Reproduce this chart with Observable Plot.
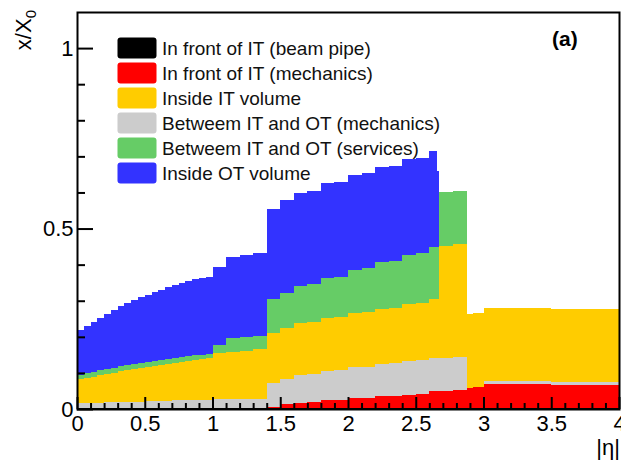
<!DOCTYPE html>
<html>
<head>
<meta charset="utf-8">
<script src="https://cdn.jsdelivr.net/npm/d3@7"></script>
<script src="https://cdn.jsdelivr.net/npm/@observablehq/plot@0.6"></script>
<style>
  html, body { margin: 0; padding: 0; background: #fff; }
  #chart svg { display: block; }
</style>
</head>
<body>
<div id="chart"></div>
<script>
// |eta| bin edges (52 bins)
const edges = [0,0.05,0.1,0.15,0.2,0.25,0.3,0.35,0.4,0.45,0.5,0.55,0.6,0.65,0.7,0.75,0.8,0.85,0.9,0.95,1.0,
  1.1,1.2,1.3,1.4,
  1.5,1.6,1.7,1.8,1.9,2.0,2.1,2.2,2.3,2.4,2.5,2.6,
  2.66,2.675,2.775,2.875,2.92,3.0,
  3.1,3.2,3.3,3.4,3.5,3.6,3.7,3.8,3.9,4.0];

// Cumulative (stacked) x/X0 up to and including each component; null = component absent in that bin
const beamPipeTop = Array(52).fill(0.002);
const frontMechTop = [
  null,null,null,null,null,null,null,null,null,null,null,null,null,null,null,null,null,null,null,null,
  null,null,null,null,
  0.006,0.013,0.018,0.019,0.025,0.026,0.030,0.031,0.035,0.036,0.040,0.041,
  0.050,0.050,0.050,0.053,0.058,0.062,
  0.069,0.069,0.068,0.068,0.068,0.067,0.067,0.066,0.066,0.066];
const betweenMechTop = [
  0.017,0.017,0.017,0.017,0.019,0.019,0.020,0.020,0.020,0.020,0.022,0.022,0.022,0.022,0.024,0.024,0.024,0.025,0.025,0.025,
  0.028,0.028,0.028,0.027,
  0.072,0.084,0.095,0.097,0.105,0.107,0.115,0.117,0.125,0.127,0.134,0.136,
  0.140,0.140,0.140,0.143,null,null,
  0.078,0.078,0.077,0.077,0.077,0.076,0.076,0.075,0.075,0.075];
const insideITTop = [
  0.082,0.086,0.090,0.094,0.098,0.101,0.104,0.107,0.110,0.113,0.116,0.119,0.122,0.125,0.128,0.131,0.134,0.137,0.139,0.142,
  0.155,0.158,0.162,0.166,
  0.210,0.225,0.238,0.241,0.252,0.255,0.265,0.268,0.277,0.280,0.291,0.294,
  0.305,0.305,0.453,0.458,0.262,0.266,
  0.279,0.279,0.279,0.279,0.279,0.277,0.277,0.276,0.276,0.276];
const betweenServTop = [
  0.095,0.099,0.103,0.107,0.111,0.114,0.118,0.121,0.124,0.127,0.130,0.133,0.136,0.139,0.141,0.144,0.146,0.149,0.151,0.153,
  0.178,0.196,0.199,0.202,
  0.305,0.322,0.340,0.345,0.363,0.367,0.386,0.390,0.406,0.410,0.428,0.432,
  0.450,0.450,0.600,0.605,null,null,
  null,null,null,null,null,null,null,null,null,null];
const insideOTTop = [
  0.218,0.230,0.242,0.253,0.264,0.275,0.285,0.294,0.302,0.310,0.317,0.324,0.331,0.337,0.343,0.349,0.354,0.359,0.363,0.367,
  0.394,0.422,0.426,0.431,
  0.555,0.578,0.598,0.603,0.625,0.629,0.649,0.653,0.670,0.674,0.692,0.696,
  0.715,0.660,null,null,null,null,
  null,null,null,null,null,null,null,null,null,null];

// Stack order (bottom to top) as drawn
const stackNames = ["In front of IT (beam pipe)", "In front of IT (mechanics)", "Betweem IT and OT (mechanics)",
  "Inside IT volume", "Betweem IT and OT (services)", "Inside OT volume"];
const stackTops = [beamPipeTop, frontMechTop, betweenMechTop, insideITTop, betweenServTop, insideOTTop];

// Legend order
const legendNames = ["In front of IT (beam pipe)", "In front of IT (mechanics)", "Inside IT volume",
  "Betweem IT and OT (mechanics)", "Betweem IT and OT (services)", "Inside OT volume"];
const legendColors = ["#000000", "#ff0000", "#ffcc00", "#cccccc", "#66cc66", "#3333ff"];

const xMajor = [0, 0.5, 1, 1.5, 2, 2.5, 3, 3.5, 4];
const xMinor = d3.range(1, 40).map(i => i / 10).filter(v => Math.abs(v * 2 - Math.round(v * 2)) > 1e-9);
const yMajor = [0, 0.5, 1];
const yMinor = [0.1, 0.2, 0.3, 0.4, 0.6, 0.7, 0.8, 0.9];

// Build stacked rectangles
const rows = [];
for (let i = 0; i < edges.length - 1; i++) {
  let prev = 0;
  stackNames.forEach((name, k) => {
    const v = stackTops[k][i];
    const top = v == null ? prev : v;
    if (top > prev) rows.push({x1: edges[i], x2: edges[i + 1], y1: prev, y2: top, layer: name});
    prev = top;
  });
}

const W = 621, H = 461;
const mL = 77, mR = 2, mT = 12, mB = 52;
const xDom = [0, 4], yDom = [0, 1.1];
const yPerPx = (yDom[1] - yDom[0]) / (H - mT - mB);
const xPerPx = (xDom[1] - xDom[0]) / (W - mL - mR);
const fmt = d => String(d);

const chart = Plot.plot({
  width: W, height: H,
  marginLeft: mL, marginRight: mR, marginTop: mT, marginBottom: mB,
  style: {fontFamily: "'Liberation Sans', Arial, Helvetica, sans-serif", background: "white", color: "black"},
  x: {domain: xDom, label: null},
  y: {domain: yDom, label: null},
  color: {domain: legendNames, range: legendColors},
  marks: [
    Plot.rect(rows, {x1: "x1", x2: "x2", y1: "y1", y2: "y2", fill: "layer", shapeRendering: "crispEdges"}),
    // inward ticks (ROOT style)
    Plot.ruleX(xMajor, {x: d => d, y1: 0, y2: 12 * yPerPx, stroke: "black", strokeWidth: 2}),
    Plot.ruleX(xMinor, {x: d => d, y1: 0, y2: 6 * yPerPx, stroke: "black", strokeWidth: 2}),
    Plot.ruleY(yMajor, {y: d => d, x1: 0, x2: 16 * xPerPx, stroke: "black", strokeWidth: 2}),
    Plot.ruleY(yMinor, {y: d => d, x1: 0, x2: 8 * xPerPx, stroke: "black", strokeWidth: 2}),
    Plot.axisX(xMajor, {tickSize: 0, tickPadding: 6, fontSize: 22, label: null, tickFormat: fmt}),
    Plot.axisY(yMajor, {tickSize: 0, tickPadding: 4, fontSize: 22, label: null, tickFormat: fmt}),
    Plot.frame({stroke: "black", strokeWidth: 2})
  ]
});

document.getElementById("chart").appendChild(chart);

const svg = d3.select(chart);
const ff = "'Liberation Sans', Arial, Helvetica, sans-serif";

// Legend
const lg = svg.append("g").attr("text-anchor", "start");
legendNames.forEach((name, i) => {
  const top = 37.5 + 25 * i;
  lg.append("rect").attr("x", 117.5).attr("y", top).attr("width", 39).attr("height", 21)
    .attr("rx", 3).attr("fill", legendColors[i]);
  lg.append("text").attr("x", 162).attr("y", top + 10.5).attr("dy", "0.35em")
    .attr("text-anchor", "start")
    .attr("font-family", ff).attr("font-size", 19).attr("fill", "#111").text(name);
});

// (a) label
svg.append("text").attr("x", 552).attr("y", 46).attr("text-anchor", "start").attr("font-family", ff)
  .attr("font-size", 21).attr("font-weight", "bold").text("(a)");

// Axis titles
const yl = svg.append("text").attr("transform", "translate(31,10) rotate(-90)")
  .attr("text-anchor", "end").attr("font-family", ff).attr("font-size", 22);
yl.append("tspan").text("x/X");
yl.append("tspan").attr("font-size", 15).attr("dy", 5).text("0");

svg.append("text").attr("x", 620).attr("y", 455).attr("text-anchor", "end")
  .attr("font-family", ff).attr("font-size", 22).text("|η|");
</script>
</body>
</html>
